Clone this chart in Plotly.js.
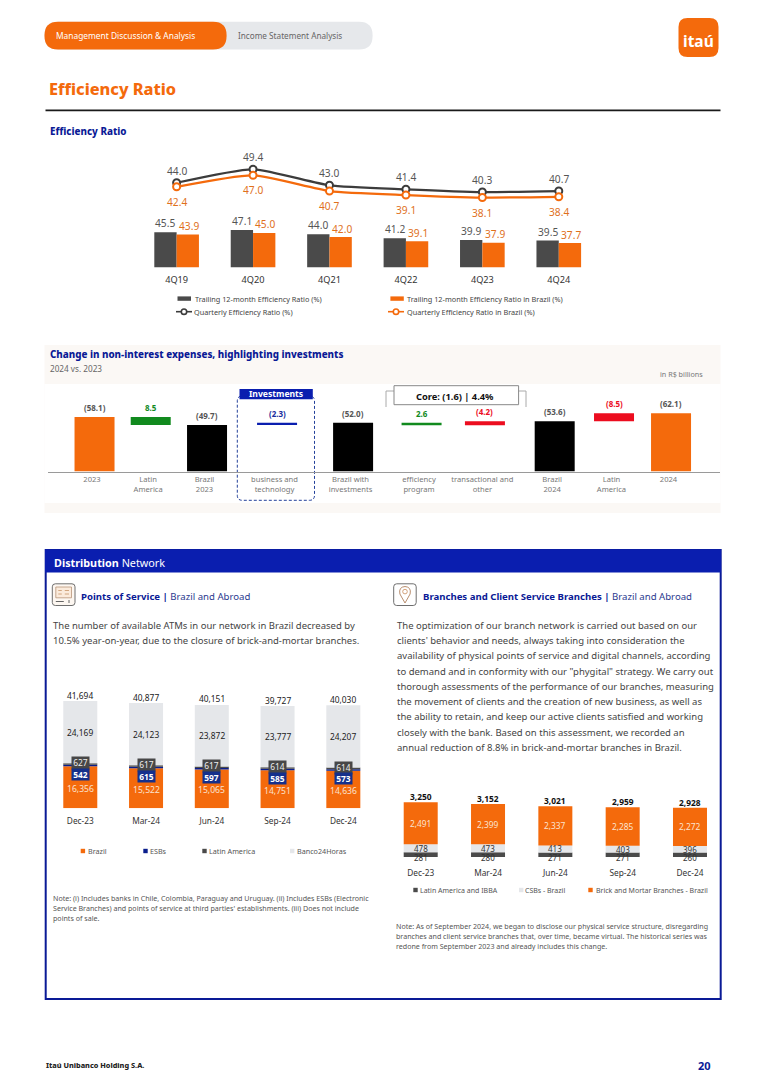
<!DOCTYPE html>
<html>
<head>
<meta charset="utf-8">
<script src="https://cdn.plot.ly/plotly-3.0.1.min.js"></script>
<style>html,body{margin:0;padding:0;background:#fff}#chart{width:766px;height:1083px}</style>
</head>
<body>
<div id="chart"></div>
<script>
// ---------- Data ----------
const quarters = ['4Q19','4Q20','4Q21','4Q22','4Q23','4Q24'];
const trailingTotal = [45.5,47.1,44.0,41.2,39.9,39.5];
const trailingBrazil = [43.9,45.0,42.0,39.1,37.9,37.7];
const quarterlyTotal = [44.0,49.4,43.0,41.4,40.3,40.7];
const quarterlyBrazil = [42.4,47.0,40.7,39.1,38.1,38.4];

const waterfallCategories = ['2023','Latin<br>America','Brazil<br>2023','business and<br>technology','Brazil with<br>investments','efficiency<br>program','transactional and<br>other','Brazil<br>2024','Latin<br>America','2024'];
const waterfallValues = [58.1,8.5,49.7,2.3,52.0,2.6,4.2,53.6,8.5,62.1];
const waterfallBases = [0,49.7,0,49.7,0,49.4,49.4,0,53.6,0];
const waterfallLabels = ['(58.1)','8.5','(49.7)','(2.3)','(52.0)','2.6','(4.2)','(53.6)','(8.5)','(62.1)'];
const waterfallColumns = [0,0.878,1.758,2.852,4.04,5.11,6.10,7.19,8.117,9.008];

const months = ['Dec-23','Mar-24','Jun-24','Sep-24','Dec-24'];
const atmBrazil = [16356,15522,15065,14751,14636];
const atmESB = [542,615,597,585,573];
const atmLatam = [627,617,617,614,614];
const atmB24 = [24169,24123,23872,23777,24207];
const atmTotals = [41694,40877,40151,39727,40030];

const branchLatam = [281,280,271,271,260];
const branchCSB = [478,473,413,403,396];
const branchBrick = [2491,2399,2337,2285,2272];
const branchTotals = [3250,3152,3021,2959,2928];

// ---------- Styles & helpers ----------
const W=766,H=1083;
const FONT='"Noto Sans", sans-serif';
const ORANGE='#F46A0C',DARK='#4A4A4A',BLUE='#0A1A96',LIGHT='#E5E7EA',GREEN='#118A1E',RED='#EC0D1F';
const px=x=>x/W, py=y=>1-y/H;
const xd=(a,b)=>[a/W,b/W], yd=(t,b)=>[1-b/H,1-t/H];
const annotations=[],shapes=[];
function T(x,y,text,o={}){const anchor=o.anchor||'left';annotations.push({xref:'paper',yref:'paper',x:px(anchor==='left'?x-1:x),y:py(y),text:text,showarrow:false,
  xanchor:anchor,yanchor:'middle',align:anchor==='center'?'center':'left',borderpad:0,
  font:{family:FONT,size:o.size||9.5,color:o.color||'#444',weight:o.weight||(o.bold?700:400)}});}
function D(xa,ya,x,y,text,o={}){const a={xref:xa,yref:ya,x:x,y:y,text:text,showarrow:false,xanchor:'center',yanchor:'middle',
  xshift:o.dx||0,yshift:o.dy||0,borderpad:0,font:{family:FONT,size:o.size||8.5,color:o.color||'#333',weight:o.bold?700:400}};
  if(o.bg){a.bgcolor=o.bg;a.width=o.w;a.height=o.h;}annotations.push(a);}
function rr(x0,y0,x1,y1,r,fill,line,lw,dash){
  const p=`M${px(x0+r)},${py(y0)} L${px(x1-r)},${py(y0)} Q${px(x1)},${py(y0)} ${px(x1)},${py(y0+r)} L${px(x1)},${py(y1-r)} Q${px(x1)},${py(y1)} ${px(x1-r)},${py(y1)} L${px(x0+r)},${py(y1)} Q${px(x0)},${py(y1)} ${px(x0)},${py(y1-r)} L${px(x0)},${py(y0+r)} Q${px(x0)},${py(y0)} ${px(x0+r)},${py(y0)} Z`;
  shapes.push({type:'path',xref:'paper',yref:'paper',path:p,fillcolor:fill||'rgba(0,0,0,0)',layer:'below',line:{color:line||'rgba(0,0,0,0)',width:lw===undefined?0:lw,dash:dash||'solid'}});}
function R(x0,y0,x1,y1,fill,line,lw,layer){shapes.push({type:'rect',xref:'paper',yref:'paper',x0:px(x0),x1:px(x1),y0:py(y0),y1:py(y1),fillcolor:fill||'rgba(0,0,0,0)',layer:layer||'below',line:{color:line||'rgba(0,0,0,0)',width:lw||0}});}
function L(x0,y0,x1,y1,c,w,layer){shapes.push({type:'line',xref:'paper',yref:'paper',x0:px(x0),x1:px(x1),y0:py(y0),y1:py(y1),layer:layer||'below',line:{color:c,width:w||1}});}
function C(cx,cy,r,fill,line,lw){shapes.push({type:'circle',xref:'paper',yref:'paper',x0:px(cx-r),x1:px(cx+r),y0:py(cy-r),y1:py(cy+r),fillcolor:fill,layer:'below',line:{color:line,width:lw}});}

// ---------- Page furniture ----------
rr(44.5,21.7,372.6,49.6,13.5,'#E6E8EB');
rr(44.5,21.7,226.6,49.6,13.5,ORANGE);
T(55.6,35.6,'Management Discussion &amp; Analysis',{size:8.4,color:'#fff'});
T(237.8,35.4,'Income Statement Analysis',{size:8.2,color:'#666'});
rr(678.5,18,718.5,57,9,ORANGE);
T(698.5,41,'itaú',{size:15.5,color:'#fff',bold:true,anchor:'center'});
T(49,89,'Efficiency Ratio',{size:16.3,color:ORANGE,weight:800});
L(45.5,110.3,720.5,110.3,'#1a1a1a',1.8);
T(49.6,131.5,'Efficiency Ratio',{size:9.8,color:BLUE,weight:800});

// chart 1 legend
R(177.5,296.4,191,300.8,DARK);
T(194.5,299.3,'Trailing 12-month Efficiency Ratio (%)',{size:7.3,color:'#444'});
R(390.4,296.4,403.8,300.8,ORANGE);
T(407.4,299.3,'Trailing 12-month Efficiency Ratio in Brazil (%)',{size:7.3,color:'#444'});
L(176,311.7,192,311.7,'#3C3C3C',1.6);C(184,311.7,2.7,'#fff','#3C3C3C',1.6);
T(194.3,312,'Quarterly Efficiency Ratio (%)',{size:7.3,color:'#444'});
L(388,311.7,404,311.7,ORANGE,1.6);C(396,311.7,2.7,'#fff',ORANGE,1.6);
T(407.2,312,'Quarterly Efficiency Ratio in Brazil (%)',{size:7.3,color:'#444'});

// waterfall section
R(44.5,345,720.5,513,'#FBF8F5');
R(44.5,384,720.5,503,'#FFFFFF');
T(49.6,354.8,'Change in non-interest expenses, highlighting investments',{size:9.8,color:BLUE,weight:800});
T(49.8,368.5,'2024 vs. 2023',{size:8.2,color:'#666'});
T(703.5,374.3,'in R$ billions',{size:7.2,color:'#777',anchor:'right'});
rr(237.3,396,314.5,500.3,5,'rgba(0,0,0,0)','#23409A',1,'3px,2px');
R(239.5,389,312.8,399.3,'#0A1EAF');
T(275.7,394.4,'Investments',{size:8.6,color:'#fff',bold:true,anchor:'center'});
L(386,391,386,407,'#AAAAAA',1);L(386,391,394,391,'#AAAAAA',1);
L(526,391,526,407,'#AAAAAA',1);L(518,391,526,391,'#AAAAAA',1);
R(394,385.7,518.6,404.7,'#fff','#888888',1);
T(455.5,396,'Core: (1.6) | 4.4%',{size:9.3,color:'#111',bold:true,anchor:'center'});

// distribution panel
R(45.7,550,720.7,999,'#fff',BLUE,2);
R(45,549.5,721,572.5,'#0A1EAF');
annotations.push({xref:'paper',yref:'paper',x:px(52.6),y:py(562.8),xanchor:'left',yanchor:'middle',showarrow:false,borderpad:0,
  text:'<b style="font-weight:800">Distribution</b> Network',font:{family:FONT,size:10.8,color:'#fff'}});
// icons
rr(52.3,583.8,75,605.5,3,'#FDF7F1','#6E6E6E',1);
R(55.8,587,71.5,597.8,'#FBEBDC','#B89478',0.8);
L(58.3,590.5,61.8,590.5,'#C89468',0.8);L(64.8,590.5,69,590.5,'#C89468',0.8);L(58.3,594,61.8,594,'#C89468',0.8);L(64.8,594,69,594,'#C89468',0.8);
L(55.8,601.5,63.8,601.5,'#666',1);L(69,600,69,603,'#666',1);
rr(393.7,583.8,416.2,605.5,3,'#fff','#6E6E6E',1);
shapes.push({type:'path',xref:'paper',yref:'paper',layer:'below',fillcolor:'rgba(0,0,0,0)',line:{color:'#B98E6E',width:1},
  path:`M${px(405)},${py(603)} L${px(399.9)},${py(594)} Q${px(398.4)},${py(587)} ${px(405)},${py(586.5)} Q${px(411.6)},${py(587)} ${px(410.1)},${py(594)} Z`});
C(405,591.6,2.3,'rgba(0,0,0,0)','#C98B5C',0.8);
annotations.push({xref:'paper',yref:'paper',x:px(79.8),y:py(596.8),xanchor:'left',yanchor:'middle',showarrow:false,borderpad:0,
  text:'<b style="font-weight:800">Points of Service |</b> <span style="color:#2B3A8F">Brazil and Abroad</span>',font:{family:FONT,size:9.6,color:BLUE}});
annotations.push({xref:'paper',yref:'paper',x:px(422.2),y:py(596.8),xanchor:'left',yanchor:'middle',showarrow:false,borderpad:0,
  text:'<b style="font-weight:800">Branches and Client Service Branches |</b> <span style="color:#2B3A8F">Brazil and Abroad</span>',font:{family:FONT,size:9.6,color:BLUE}});
const bodyLeft=['The number of available ATMs in our network in Brazil decreased by','10.5% year-on-year, due to the closure of brick-and-mortar branches.'];
bodyLeft.forEach((s,i)=>T(53,625.3+15*i,s,{size:9.5,color:'#444'}));
const bodyRight=['The optimization of our branch network is carried out based on our','clients\' behavior and needs, always taking into consideration the','availability of physical points of service and digital channels, according','to demand and in conformity with our "phygital" strategy. We carry out','thorough assessments of the performance of our branches, measuring','the movement of clients and the creation of new business, as well as','the ability to retain, and keep our active clients satisfied and working','closely with the bank. Based on this assessment, we recorded an','annual reduction of 8.8% in brick-and-mortar branches in Brazil.'];
bodyRight.forEach((s,i)=>T(396.5,625.3+15.25*i,s,{size:9.5,color:'#444'}));
const noteLeft=['Note: (i) Includes banks in Chile, Colombia, Paraguay and Uruguay. (ii) Includes ESBs (Electronic','Service Branches) and points of service at third parties\' establishments. (iii) Does not include','points of sale.'];
noteLeft.forEach((s,i)=>T(52.7,898+10*i,s,{size:7.1,color:'#555'}));
const noteRight=['Note: As of September 2024, we began to disclose our physical service structure, disregarding','branches and client service branches that, over time, became virtual. The historical series was','redone from September 2023 and already includes this change.'];
noteRight.forEach((s,i)=>T(396,926+10*i,s,{size:7.1,color:'#555'}));

// points legend
[[80.7,87.7,'Brazil',ORANGE],[143.3,149.7,'ESBs','#0A1E8C'],[202.3,209,'Latin America',DARK],[290,296.7,'Banco24Horas',LIGHT]].forEach(l=>{
  R(l[0],848.8,l[0]+4.4,853.2,l[3]);T(l[1],851,l[2],{size:7.2,color:'#555'});});
// branch legend
[[413.3,420,'Latin America and IBBA',DARK],[519,525,'CSBs - Brazil',LIGHT],[588.3,595.7,'Brick and Mortar Branches - Brazil',ORANGE]].forEach(l=>{
  R(l[0],887.8,l[0]+4.4,892.2,l[3]);T(l[1],890,l[2],{size:7.0,color:'#555'});});

T(45.7,1065,'Itaú Unibanco Holding S.A.',{size:7.3,color:'#222',weight:800});
T(704.8,1065,'20',{size:11,color:BLUE,bold:true,anchor:'center'});

// ---------- Traces ----------
const traces=[];
// Chart 1 bars
traces.push({type:'bar',x:quarters,y:trailingTotal,base:0,width:0.292,offset:-0.292,marker:{color:DARK},xaxis:'x',yaxis:'y',name:'Trailing 12-month Efficiency Ratio (%)'});
traces.push({type:'bar',x:quarters,y:trailingBrazil,base:0,width:0.292,offset:0,marker:{color:ORANGE},xaxis:'x',yaxis:'y',name:'Trailing 12-month Efficiency Ratio in Brazil (%)'});
// Chart 1 lines
const lineTrace=(y,c,n)=>({type:'scatter',mode:'lines+markers',x:quarters,y:y,xaxis:'x2',yaxis:'y2',name:n,cliponaxis:false,
  line:{color:c,width:2.2,shape:'spline',smoothing:0.55},marker:{symbol:'circle',size:7,color:'#fff',line:{color:c,width:2}}});
traces.push(lineTrace(quarterlyTotal,'#3C3C3C','Quarterly Efficiency Ratio (%)'));
traces.push(lineTrace(quarterlyBrazil,ORANGE,'Quarterly Efficiency Ratio in Brazil (%)'));
quarters.forEach((q,i)=>{
  D('x','y',i-0.146,trailingTotal[i],trailingTotal[i].toFixed(1),{size:10.2,color:'#555',dy:9});
  D('x','y',i+0.16,trailingBrazil[i],trailingBrazil[i].toFixed(1),{size:10.2,color:'#E0701C',dy:8.5});
  D('x2','y2',i,quarterlyTotal[i],quarterlyTotal[i].toFixed(1),{size:10.2,color:'#555',dy:12});
  D('x2','y2',i,quarterlyBrazil[i],quarterlyBrazil[i].toFixed(1),{size:10.2,color:'#E0701C',dy:-15});
});
// Waterfall
const waterfallColors=[ORANGE,GREEN,'#000000','#0A1EAF','#000000',GREEN,RED,'#000000',RED,ORANGE];
const waterfallTextColors=['#555',GREEN,'#555','#1A2E9E','#555',GREEN,RED,'#555',RED,'#555'];
traces.push({type:'bar',x:waterfallColumns,y:waterfallValues,base:waterfallBases,width:0.625,marker:{color:waterfallColors},xaxis:'x3',yaxis:'y3',name:'Change in non-interest expenses'});
waterfallValues.forEach((v,i)=>D('x3','y3',waterfallColumns[i],waterfallBases[i]+v,waterfallLabels[i],{size:8,bold:true,color:waterfallTextColors[i],dy:9.5}));
// Points of service
const cum=(...a)=>a[0].map((_,i)=>a.reduce((s,r)=>s+r[i],0));
const atmBase1=atmBrazil, atmBase2=cum(atmBrazil,atmESB), atmBase3=cum(atmBrazil,atmESB,atmLatam);
[[atmBrazil,0,ORANGE,'Brazil'],[atmESB,atmBase1,'#0A1E8C','ESBs'],[atmLatam,atmBase2,DARK,'Latin America'],[atmB24,atmBase3,LIGHT,'Banco24Horas']].forEach(s=>{
  traces.push({type:'bar',x:months,y:s[0],base:s[1],width:0.517,marker:{color:s[2]},xaxis:'x4',yaxis:'y4',name:s[3]});});
months.forEach((m,i)=>{
  D('x4','y4',i,atmBrazil[i]/2,atmBrazil[i].toLocaleString('en-US'),{size:8.6,color:'#FBE3D0',dy:-1.5});
  D('x4','y4',i,atmBase3[i],atmLatam[i].toString(),{size:8.4,color:'#EEE',bg:'#474747',w:17,h:11.5,dy:0});
  D('x4','y4',i,atmBase1[i],atmESB[i].toString(),{size:8.4,color:'#fff',bold:true,bg:'#14308C',w:17,h:11,dy:-8});
  D('x4','y4',i,atmBase3[i]+atmB24[i]/2,atmB24[i].toLocaleString('en-US'),{size:8.4,color:'#222'});
  D('x4','y4',i,atmTotals[i],atmTotals[i].toLocaleString('en-US'),{size:8.4,color:'#222',dy:6});
});
// Branches
const brBase1=branchLatam, brBase2=cum(branchLatam,branchCSB);
[[branchLatam,0,DARK,'Latin America and IBBA'],[branchCSB,brBase1,LIGHT,'CSBs - Brazil'],[branchBrick,brBase2,ORANGE,'Brick and Mortar Branches - Brazil']].forEach(s=>{
  traces.push({type:'bar',x:months,y:s[0],base:s[1],width:0.505,marker:{color:s[2]},xaxis:'x5',yaxis:'y5',name:s[3]});});
months.forEach((m,i)=>{
  D('x5','y5',i,brBase2[i]+branchBrick[i]/2,branchBrick[i].toLocaleString('en-US'),{size:8.4,color:'#FBE3D0'});
  D('x5','y5',i,branchLatam[i]+branchCSB[i]/2,branchCSB[i].toString(),{size:8,color:'#333'});
  D('x5','y5',i,0,branchLatam[i].toString(),{size:8,color:'#333',dy:-0.5});
  D('x5','y5',i,branchTotals[i],branchTotals[i].toLocaleString('en-US'),{size:8.4,color:'#111',bold:true,dy:5.5});
});

// ---------- Axes ----------
const hiddenY={showgrid:false,zeroline:false,showticklabels:false,ticks:'',showline:false,fixedrange:true};
const cat=(dom,arr,size,color,extra)=>Object.assign({domain:dom,type:'category',categoryorder:'array',categoryarray:arr,range:[-0.5,arr.length-0.5],
  showgrid:false,zeroline:false,showline:false,ticks:'',tickfont:{family:FONT,size:size,color:color},fixedrange:true},extra||{});
const layout={width:W,height:H,margin:{l:0,r:0,t:0,b:0,pad:0},autosize:false,showlegend:false,barmode:'overlay',
  paper_bgcolor:'#fff',plot_bgcolor:'rgba(0,0,0,0)',font:{family:FONT},shapes:shapes,annotations:annotations,
  xaxis:cat(xd(138.4,597),quarters,9.2,'#333',{ticklabelstandoff:5}),
  yaxis:Object.assign({domain:yd(220,267.3),range:[20.3,54.3]},hiddenY),
  xaxis2:cat(xd(138.4,597),quarters,9,'#333',{showticklabels:false,anchor:'y2'}),
  yaxis2:Object.assign({domain:yd(165,205),range:[35.12,51.12],anchor:'x2'},hiddenY),
  xaxis3:{domain:xd(48,720),range:[-0.727,9.773],anchor:'y3',tickmode:'array',tickvals:waterfallColumns.map(c=>c-0.04),ticktext:waterfallCategories,ticklabelstandoff:3.5,
    showgrid:false,zeroline:false,showline:true,linecolor:'#9A9A9A',linewidth:1,ticks:'',tickfont:{family:FONT,size:7.6,color:'#777'},fixedrange:true},
  yaxis3:Object.assign({domain:yd(400,471.6),range:[0,76.2],anchor:'x3'},hiddenY),
  xaxis4:cat(xd(47.4,376.2),months,8.3,'#333',{anchor:'y4',ticklabelstandoff:6}),
  yaxis4:Object.assign({domain:yd(695,808.3),range:[0,44030],anchor:'x4'},hiddenY),
  xaxis5:cat(xd(387.05,723.65),months,8.3,'#333',{anchor:'y5',ticklabelstandoff:10}),
  yaxis5:Object.assign({domain:yd(795,857),range:[0,3684],anchor:'x5'},hiddenY)
};
Plotly.newPlot('chart',traces,layout,{displayModeBar:false,staticPlot:true});
</script>
</body>
</html>
